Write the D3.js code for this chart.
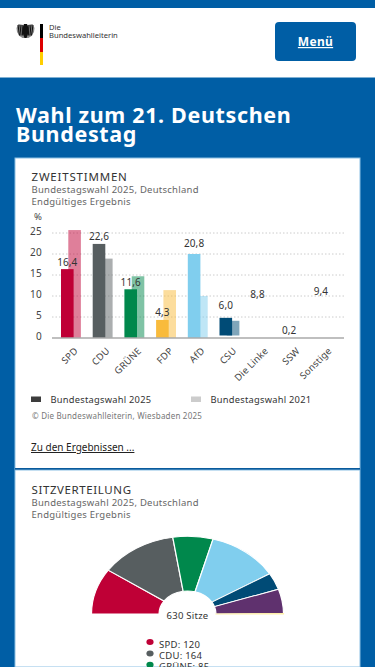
<!DOCTYPE html>
<html lang="de">
  <head>
    <meta charset="UTF-8" />
    <title>Wahl zum 21. Deutschen Bundestag</title>
    <script src="https://cdn.jsdelivr.net/npm/d3@7"></script>
    <style>
      html, body { margin:0; padding:0; overflow:hidden; background:#005ea5; }
      svg { display:block; }
      text { font-family:"Noto Sans", sans-serif; }
    </style>
  </head>
  <body>
    <svg id="page" width="375" height="667"></svg>
    <script>
      // bar chart data
      const parties = ["SPD", "CDU", "GRÜNE", "FDP", "AfD", "CSU", "Die Linke", "SSW", "Sonstige"];
      const labelValues = [16.4, 22.6, 11.6, 4.3, 20.8, 6.0, 8.8, 0.2, 9.4];
      // heights as drawn in the picture, Linke/SSW/Sonstige have no bar
      const bars2025 = [16.4, 22.4, 11.6, 4.3, 20, 4.8];
      const bars2021 = [25.7, 18.9, 14.7, 11.4, 10, 4.1];
      const barBase = [0, 0, 0, 0, 0, 0.6];
      const barColors = ["#bf0036", "#575e60", "#00884c", "#f9bb3c", "#80ceee", "#004b76"];
      const yTicks = [0, 5, 10, 15, 20, 25];
      const legendLabels = ["Bundestagswahl 2025", "Bundestagswahl 2021"];

      // seat data
      const seatParties = ["SPD", "CDU", "GRÜNE", "AfD", "CSU", "Die Linke", "SSW"];
      const seats = [120, 164, 85, 152, 44, 64, 1];
      const seatColors = ["#bf0036", "#575e60", "#00884c", "#80ceee", "#004b76", "#5f316e", "#fff0a8"];

      const blue = "#005ea5";
      const svg = d3.select("#page");

      function rect(x, y, w, h, fill) {
        return svg.append("rect").attr("x", x).attr("y", y).attr("width", w).attr("height", h).attr("fill", fill);
      }
      function label(x, y, str, size, fill, spacing) {
        return svg.append("text").attr("x", x).attr("y", y).attr("font-size", size).attr("fill", fill)
          .attr("letter-spacing", spacing || 0).text(str);
      }

      // header
      rect(0, 8, 375, 69, "#fff");
      rect(0, 77, 375, 1, "#7fb0d3");

      // logo, eagle is only a rough shape
      const eagle = svg.append("g").attr("transform", "translate(25.5,31)");
      eagle.append("path").attr("fill", "#8a8a8a")
        .attr("d", "M-2,-6 L-7,-7 L-9,-3 L-8.5,1 L-6,5 L-3,7 L3,7 L6,5 L8.5,1 L9,-3 L7,-7 L2,-6 Z");
      eagle.append("g").selectAll("line").data([-7.5, -5.5, -3.5, 3.5, 5.5, 7.5]).enter().append("line")
        .attr("x1", d => d).attr("x2", d => d * 0.8).attr("y1", -6).attr("y2", 4.5)
        .attr("stroke", "#111").attr("stroke-width", 1.1);
      eagle.append("path").attr("fill", "#111").attr("d", "M-1.5,-7 L1.5,-7 L3,-3 L2.5,3 L1,7 L-1,7 L-2.5,3 L-3,-3 Z");
      rect(40, 24, 3, 14, "#000");
      rect(40, 38, 3, 14, "#dd0000");
      rect(40, 52, 3, 13, "#ffce00");
      label(49, 30, "Die", 7.6, "#333");
      label(49, 38, "Bundeswahlleiterin", 7.6, "#333");

      // menu button
      rect(275, 22, 81, 39, blue).attr("rx", 4);
      label(315.5, 46, "Menü", 12, "#fff", 0.3)
        .attr("text-anchor", "middle").attr("font-weight", 700).attr("text-decoration", "underline");

      // heading
      label(16, 123, "Wahl zum 21. Deutschen", 21.5, "#fff", 0.65).attr("font-weight", 700);
      label(16, 142, "Bundestag", 21.5, "#fff", 0.65).attr("font-weight", 700);

      // cards
      rect(15, 158, 345, 311, "#fff").attr("stroke", "#8cc0e4");
      rect(15, 470, 345, 197, "#fff").attr("stroke", "#8cc0e4");
      rect(15, 468, 345, 1.5, "#0a5a9c");

      // card 1 head
      label(31.5, 181, "ZWEITSTIMMEN", 11.5, "#333", 0.8);
      label(31.5, 193, "Bundestagswahl 2025, Deutschland", 9.5, "#666", 0.25);
      label(31.5, 205, "Endgültiges Ergebnis", 9.5, "#666", 0.25);
      label(34, 220, "%", 9.5, "#444");

      // scales
      const x = d3.scaleBand().domain(parties).range([55.15, 340.45]);
      const y = d3.scaleLinear().domain([0, 25]).range([338, 233]);
      const bw = 12.6;

      // y axis and grid
      const yAxis = svg.append("g").attr("transform", "translate(52,0)")
        .call(d3.axisLeft(y).tickValues(yTicks).tickSize(0).tickPadding(10));
      yAxis.select(".domain").remove();
      yAxis.selectAll("text").attr("font-size", 10).attr("letter-spacing", 0.3)
        .attr("fill", "#444").attr("font-family", "Noto Sans").attr("dy", "0.12em");

      svg.append("g").selectAll("line").data(yTicks.filter(d => d > 0)).enter().append("line")
        .attr("x1", 52).attr("x2", 344)
        .attr("y1", d => y(d)).attr("y2", d => y(d))
        .attr("stroke", "#ccc").attr("stroke-width", 1).attr("stroke-dasharray", "1.5,2");

      // 2021 bars behind, 2025 in front
      svg.append("g").selectAll("rect").data(bars2021).enter().append("rect")
        .attr("x", (d, i) => x(parties[i]) + 13.15)
        .attr("width", bw)
        .attr("y", d => y(d))
        .attr("height", (d, i) => y(barBase[i]) - y(d))
        .attr("fill", (d, i) => barColors[i])
        .attr("fill-opacity", 0.5);
      svg.append("g").selectAll("rect").data(bars2025).enter().append("rect")
        .attr("x", (d, i) => x(parties[i]) + 5.85)
        .attr("width", bw)
        .attr("y", d => y(d))
        .attr("height", (d, i) => y(barBase[i]) - y(d))
        .attr("fill", (d, i) => barColors[i]);

      // x axis
      const xAxis = svg.append("g").attr("transform", "translate(0,338)")
        .call(d3.axisBottom(x).tickSize(0).tickPadding(0));
      xAxis.select(".domain").remove();
      xAxis.selectAll("text")
        .attr("font-size", 9.5).attr("letter-spacing", 0.2).attr("fill", "#444").attr("font-family", "Noto Sans")
        .attr("text-anchor", "end").attr("dy", 0).attr("y", 0)
        .attr("transform", "translate(7.5,13.5) rotate(-45)");
      svg.append("line").attr("x1", 52).attr("x2", 344).attr("y1", 338).attr("y2", 338)
        .attr("stroke", "#aaa").attr("stroke-width", 1.5);

      // value labels
      svg.append("g").selectAll("text").data(labelValues).enter().append("text")
        .attr("x", (d, i) => x(parties[i]) + 12.15)
        .attr("y", d => y(d) - 3.5)
        .attr("text-anchor", "middle").attr("font-size", 10).attr("letter-spacing", 0.1).attr("fill", "#333")
        .text(d => d3.format(".1f")(d).replace(".", ","));

      // legend
      rect(31, 396.5, 10, 5.5, "#3c3c3c");
      label(50.5, 403, legendLabels[0], 9.3, "#333", 0.25);
      rect(191, 396.5, 10, 5.5, "#ccc");
      label(210.5, 403, legendLabels[1], 9.3, "#333", 0.25);

      label(32, 419, "© Die Bundeswahlleiterin, Wiesbaden 2025", 8, "#777", 0.2);
      label(31, 451, "Zu den Ergebnissen ...", 10, "#222").attr("text-decoration", "underline");

      // card 2 head
      label(31.5, 494, "SITZVERTEILUNG", 11.5, "#333", 0.6);
      label(31.5, 506, "Bundestagswahl 2025, Deutschland", 9.5, "#666", 0.25);
      label(31.5, 518, "Endgültiges Ergebnis", 9.5, "#666", 0.25);

      // seat half circle, squashed a bit like the original
      const pie = d3.pie().sort(null).startAngle(-Math.PI / 2).endAngle(Math.PI / 2);
      const arc = d3.arc().innerRadius(28.5).outerRadius(96);
      svg.append("g").attr("transform", "translate(187.5,614) scale(1,0.81)")
        .selectAll("path").data(pie(seats)).enter().append("path")
        .attr("d", arc)
        .attr("fill", (d, i) => seatColors[i])
        // SSW is one seat, a white outline would hide it
        .attr("stroke", (d, i) => i === seats.length - 1 ? seatColors[i] : "#fff")
        .attr("stroke-width", 1.2);

      label(187.5, 619, d3.sum(seats) + " Sitze", 9.5, "#333", 0.25).attr("text-anchor", "middle");

      // seat legend, only the entries the screen shows
      const legend = svg.append("g").selectAll("g").data(seatParties.slice(0, 3)).enter().append("g")
        .attr("transform", (d, i) => `translate(150,${642 + i * 11.4})`);
      legend.append("ellipse").attr("rx", 3.6).attr("ry", 3).attr("fill", (d, i) => seatColors[i]);
      legend.append("text").attr("x", 9).attr("y", 5.5).attr("font-size", 9.5).attr("letter-spacing", 0.25).attr("fill", "#333")
        .text((d, i) => d + ": " + seats[i]);
    </script>
  </body>
</html>
